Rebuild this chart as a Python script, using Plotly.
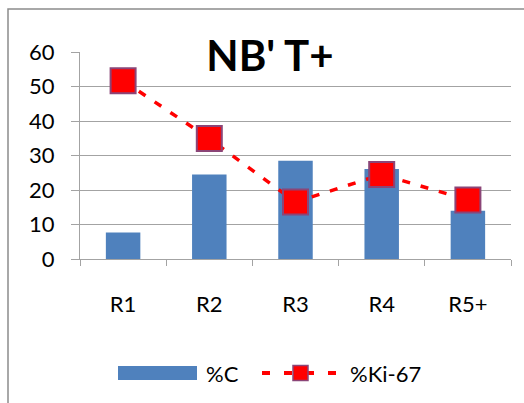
import plotly.graph_objects as go

# Data
categories = ["R1", "R2", "R3", "R4", "R5+"]
pct_c = [7.7, 24.5, 28.5, 26.1, 14.0]
pct_ki67 = [51.7, 34.9, 16.5, 24.5, 17.1]
y_ticks = [0, 10, 20, 30, 40, 50, 60]

W, H = 524, 403
ML, MR, MT, MB = 80, 13, 52, 144
PW, PH = W - ML - MR, H - MT - MB

FONT = "Lato, Calibri, Carlito, sans-serif"
BAR_COLOR = "#4F81BD"
LINE_COLOR = "#FF0000"
EDGE_COLOR = "#8B4577"
GRID = "#a3a3a3"


def px(x):
    return (x - ML) / PW


def py(y):
    return (H - MB - y) / PH


fig = go.Figure()
fig.add_trace(go.Bar(
    x=categories, y=pct_c, name="%C",
    marker=dict(color=BAR_COLOR, line=dict(width=0)),
    width=0.4, showlegend=False,
))
fig.add_trace(go.Scatter(
    x=categories, y=pct_ki67, name="%Ki-67", mode="lines+markers",
    line=dict(color=LINE_COLOR, width=3.5, dash="8px,11px"),
    marker=dict(symbol="square", size=25, color=LINE_COLOR,
                line=dict(color=EDGE_COLOR, width=2)),
    showlegend=False,
))

shapes = [
    # outer chart frame
    dict(type="rect", xref="paper", yref="paper",
         x0=px(8), x1=px(540), y0=py(9), y1=py(420),
         line=dict(color="#8c8c8c", width=1.5), layer="below"),
    # legend: bar swatch
    dict(type="rect", xref="paper", yref="paper",
         x0=px(118), x1=px(197), y0=py(380), y1=py(366),
         fillcolor=BAR_COLOR, line=dict(width=0)),
    # legend: dashed line segments
    dict(type="line", xref="paper", yref="paper",
         x0=px(262), x1=px(340), y0=py(373), y1=py(373),
         line=dict(color=LINE_COLOR, width=4, dash="8px,14px")),
    # legend: square marker
    dict(type="rect", xref="paper", yref="paper",
         x0=px(293), x1=px(308), y0=py(380.5), y1=py(365.5),
         fillcolor=LINE_COLOR, line=dict(color=EDGE_COLOR, width=1.5)),
]

annotations = [
    dict(text="%C", xref="paper", yref="paper", x=px(204), y=py(373),
         xanchor="left", yanchor="middle", showarrow=False,
         font=dict(family=FONT, size=22, color="#000")),
    dict(text="%Ki-67", xref="paper", yref="paper", x=px(348), y=py(373),
         xanchor="left", yanchor="middle", showarrow=False,
         font=dict(family=FONT, size=22, color="#000")),
]

fig.update_layout(
    width=W, height=H,
    margin=dict(l=ML, r=MR, t=MT, b=MB, pad=0),
    paper_bgcolor="white", plot_bgcolor="white",
    title=dict(text="<b>NB' T+</b>", xref="container", x=270 / W,
               xanchor="center", y=1 - 56 / H, yanchor="middle",
               font=dict(family=FONT, size=42, color="#000")),
    font=dict(family=FONT, size=22, color="#000"),
    shapes=shapes, annotations=annotations,
    bargap=0.6,
)
fig.update_xaxes(
    type="category", range=[-0.5, 4.5],
    tickson="boundaries", ticks="outside", ticklen=6, tickcolor=GRID,
    showline=True, linecolor=GRID, linewidth=1,
    showgrid=False, ticklabelstandoff=26,
    tickfont=dict(family=FONT, size=22, color="#000"),
)
fig.update_yaxes(
    range=[0, 60], tickvals=y_ticks, ticks="outside", ticklen=8,
    tickcolor=GRID, showline=True, linecolor=GRID, linewidth=1,
    showgrid=True, gridcolor=GRID, gridwidth=1, zeroline=False,
    ticklabelstandoff=12,
    tickfont=dict(family=FONT, size=22, color="#000"),
)

fig.write_html("out.html")
